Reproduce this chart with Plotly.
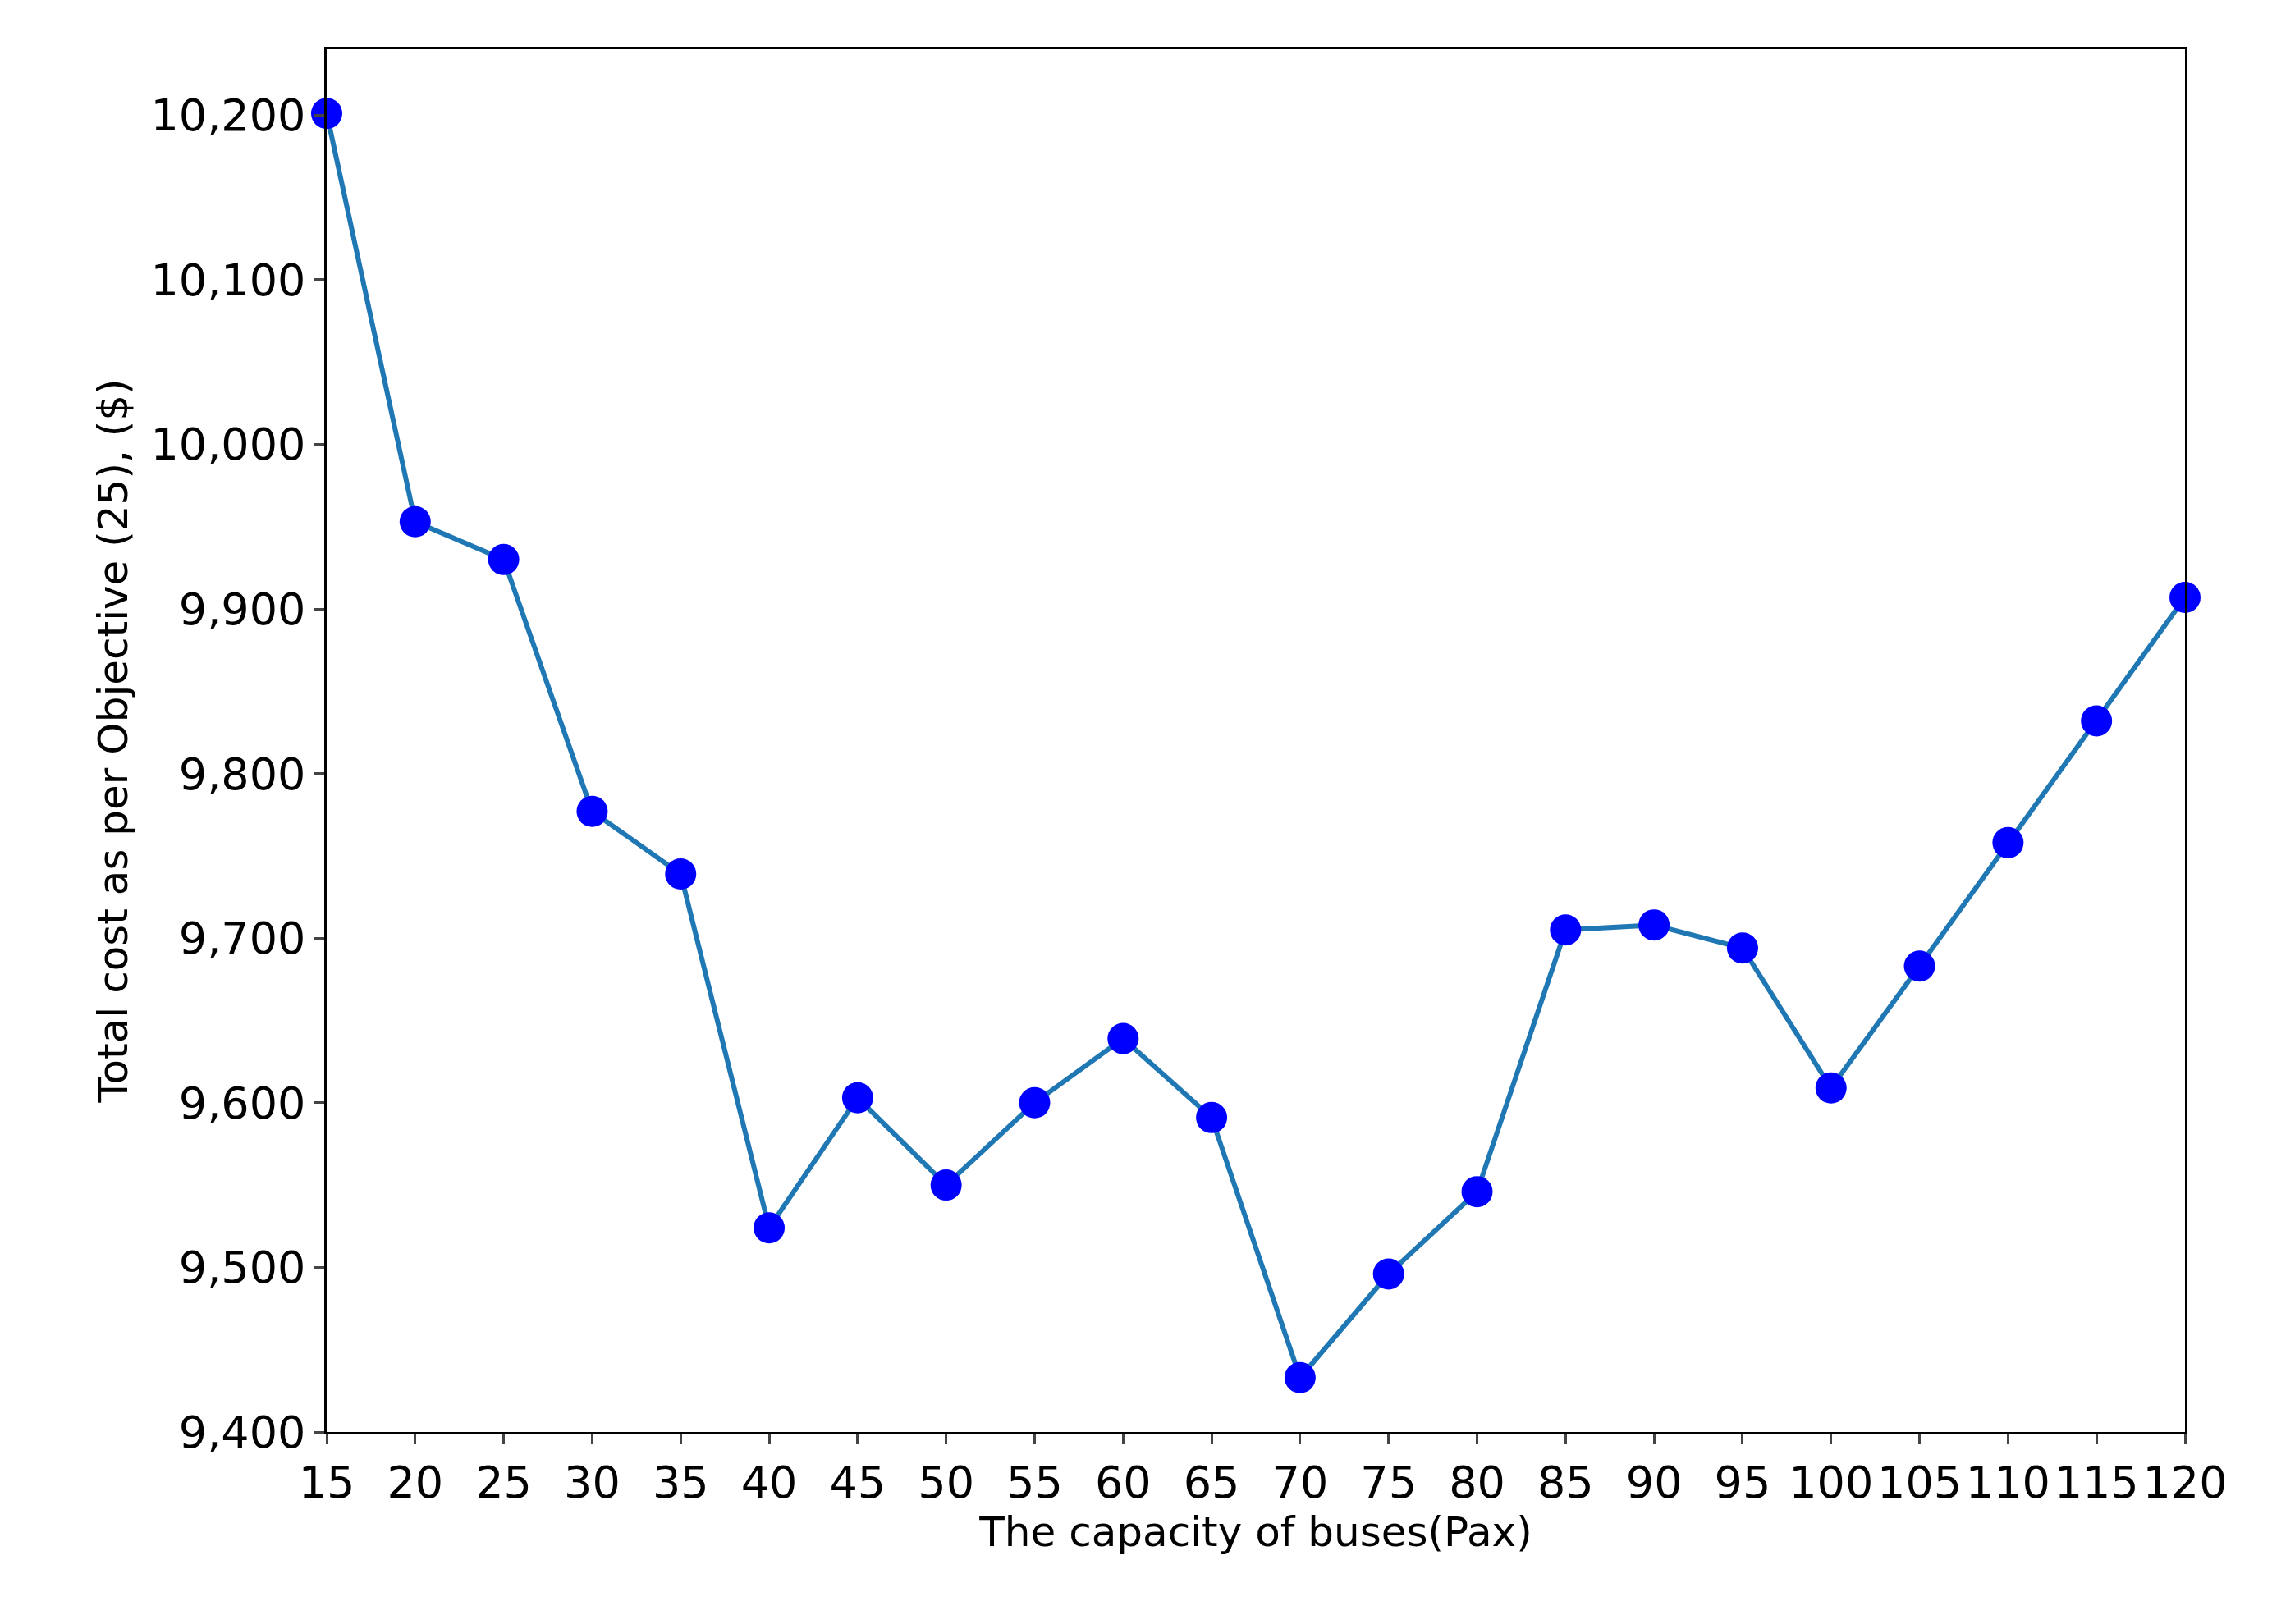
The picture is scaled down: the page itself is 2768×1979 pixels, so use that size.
import plotly.graph_objects as go

capacity = [15,20,25,30,35,40,45,50,55,60,65,70,75,80,85,90,95,100,105,110,115,120]
cost = [10201,9953,9930,9777,9739,9524,9603,9550,9600,9639,9591,9433,9496,9546,9705,9708,9694,9609,9683,9758,9832,9907]

tickfont = dict(family="DejaVu Sans", size=54, color="black")
titlefont = dict(family="DejaVu Sans", size=50, color="black")
fig = go.Figure(go.Scatter(x=capacity, y=cost, mode="lines+markers", cliponaxis=False,
    line=dict(color="#1f77b4", width=6),
    marker=dict(color="blue", size=38)))
fig.update_layout(width=2768, height=1979, plot_bgcolor="white", paper_bgcolor="white",
    margin=dict(l=390, r=114, t=52, b=242), showlegend=False, font=tickfont)
fig.update_xaxes(range=[15,120], tickvals=capacity, showgrid=False, showline=True, mirror=True,
    linecolor="black", linewidth=2.5, ticks="outside", ticklen=12, tickwidth=2.5,
    title=dict(text="The capacity of buses(Pax)", standoff=2, font=titlefont), tickfont=tickfont)
fig.update_yaxes(range=[9400,10240], tickvals=[9400,9500,9600,9700,9800,9900,10000,10100,10200],
    tickformat=",d", showgrid=False, showline=True, mirror=True, zeroline=False,
    linecolor="black", linewidth=2.5, ticks="outside", ticklen=12, tickwidth=2.5,
    title=dict(text="Total cost as per Objective (25), ($)", standoff=12, font=titlefont), tickfont=tickfont)
fig.write_html("out.html")
